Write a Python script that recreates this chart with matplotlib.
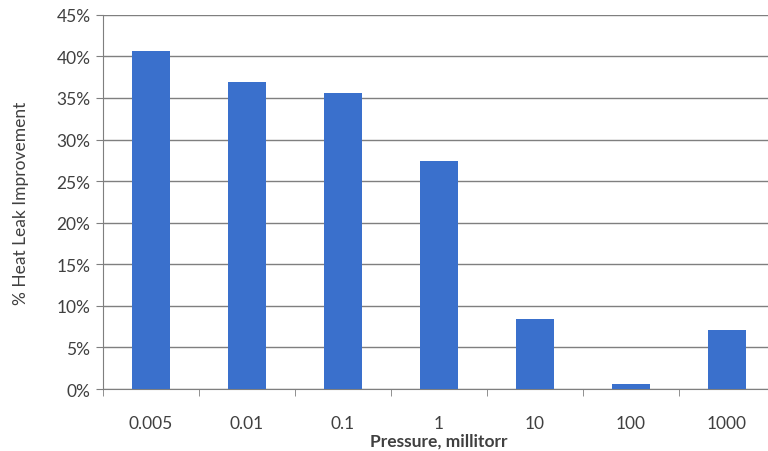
import matplotlib.pyplot as plt
import numpy as np
from matplotlib.ticker import PercentFormatter

# Data
pressures = ["0.005", "0.01", "0.1", "1", "10", "100", "1000"]
improvement = [40.6, 36.9, 35.6, 27.4, 8.4, 0.6, 7.1]

plt.rcParams['font.family'] = ['Lato', 'DejaVu Sans']

fig = plt.figure(figsize=(7.68, 4.52), dpi=100)
ax = fig.add_axes([0.134, 0.137, 0.875, 0.828])

x = np.arange(len(pressures))
ax.bar(x, improvement, width=0.4, color='#3A70CC', zorder=3)

ax.set_xlim(-0.5, len(pressures) - 0.5)
ax.set_ylim(0, 45)
ax.set_yticks(np.arange(0, 46, 5))
ax.yaxis.set_major_formatter(PercentFormatter(decimals=0))
ax.grid(axis='y', color='#7f7f7f', linewidth=1.0, zorder=0)

# category labels centered, tick marks between categories
ax.set_xticks(x)
ax.set_xticklabels(pressures)
ax.set_xticks(np.arange(-0.5, len(pressures), 1), minor=True)
ax.tick_params(axis='x', which='major', length=0, pad=19, labelsize=12.5, colors='#404040')
ax.tick_params(axis='x', which='minor', length=5, color='#7f7f7f')
ax.tick_params(axis='y', length=5, color='#7f7f7f', labelsize=12.5, labelcolor='#404040', pad=4)

for side in ['top', 'right']:
    ax.spines[side].set_visible(False)
ax.spines['left'].set_color('#7f7f7f')
ax.spines['bottom'].set_color('#7f7f7f')

ax.set_xlabel("Pressure, millitorr", fontweight='bold', fontsize=12.5, color='#404040', labelpad=1)
ax.set_ylabel("% Heat Leak Improvement", fontsize=12.5, color='#404040', labelpad=20)

fig.savefig("out.png", dpi=100)
